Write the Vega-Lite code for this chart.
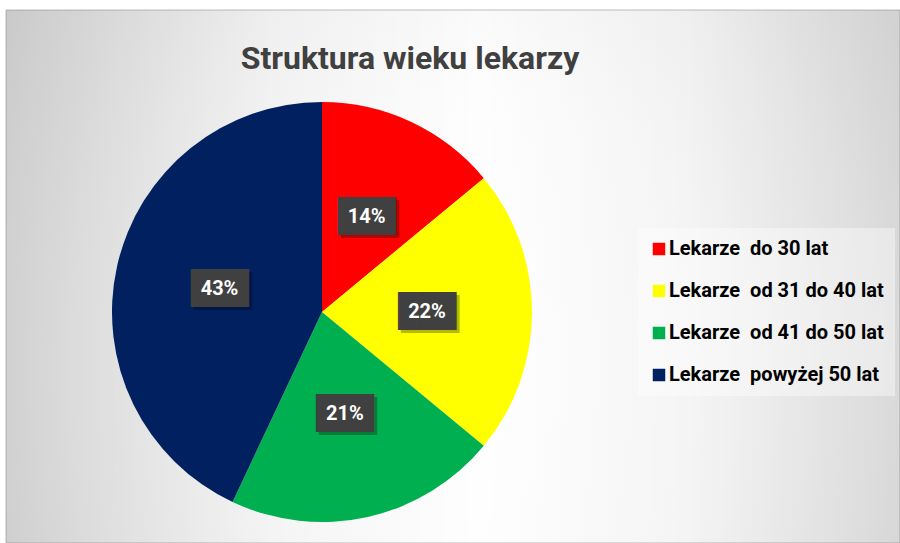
{
  "$schema": "https://vega.github.io/schema/vega-lite/v6.json",
  "width": 894,
  "height": 533,
  "autosize": {"type": "none"},
  "padding": {"left": 6, "top": 10, "right": 0, "bottom": 0},
  "background": "#ffffff",
  "config": {"view": {"stroke": null}},
  "title": {
    "text": "Struktura wieku lekarzy",
    "font": "Roboto",
    "fontSize": 32,
    "fontWeight": "bold",
    "color": "#404040",
    "anchor": "middle",
    "frame": "group",
    "offset": -66,
    "dx": -43
  },
  "data": {
    "values": [
      {"kategoria": "Lekarze\u00a0 do 30 lat", "udzial": 0.14, "kolejnosc": 1},
      {"kategoria": "Lekarze\u00a0 od 31 do 40 lat", "udzial": 0.22, "kolejnosc": 2},
      {"kategoria": "Lekarze\u00a0 od 41 do 50 lat", "udzial": 0.21, "kolejnosc": 3},
      {"kategoria": "Lekarze\u00a0 powyżej 50 lat", "udzial": 0.43, "kolejnosc": 4}
    ]
  },
  "layer": [
    {
      "data": {"values": [{"tlo": 1}]},
      "mark": {
        "type": "rect",
        "stroke": "#bdbdbd",
        "strokeWidth": 1,
        "fill": {
          "gradient": "radial",
          "x1": 0.53, "y1": 0.6, "r1": 0,
          "x2": 0.53, "y2": 0.6, "r2": 1,
          "stops": [
            {"offset": 0, "color": "#ffffff"},
            {"offset": 0.3, "color": "#fdfdfd"},
            {"offset": 0.45, "color": "#f8f8f8"},
            {"offset": 0.6, "color": "#efefef"},
            {"offset": 0.8, "color": "#e2e2e2"},
            {"offset": 1, "color": "#d0d0d0"}
          ]
        }
      },
      "encoding": {}
    },
    {
      "data": {"values": [{"tlo": 2}]},
      "mark": {
        "type": "rect",
        "fill": {
          "gradient": "linear",
          "x1": 0, "y1": 0, "x2": 1, "y2": 0,
          "stops": [
            {"offset": 0, "color": "rgba(0,0,0,0.14)"},
            {"offset": 0.3, "color": "rgba(0,0,0,0.035)"},
            {"offset": 0.53, "color": "rgba(0,0,0,0)"},
            {"offset": 0.76, "color": "rgba(0,0,0,0.035)"},
            {"offset": 1, "color": "rgba(0,0,0,0.12)"}
          ]
        }
      },
      "encoding": {}
    },
    {
      "mark": {"type": "arc", "outerRadius": 210, "x": 316, "y": 302},
      "encoding": {
        "theta": {"field": "udzial", "type": "quantitative", "stack": true},
        "order": {"field": "kolejnosc", "type": "quantitative"},
        "color": {
          "field": "kategoria",
          "type": "nominal",
          "sort": null,
          "scale": {
            "domain": ["Lekarze\u00a0 do 30 lat", "Lekarze\u00a0 od 31 do 40 lat", "Lekarze\u00a0 od 41 do 50 lat", "Lekarze\u00a0 powyżej 50 lat"],
            "range": ["#ff0000", "#ffff00", "#00b050", "#002060"]
          },
          "legend": {
            "orient": "none",
            "legendX": 632,
            "legendY": 218,
            "title": null,
            "fillColor": "rgba(255,255,255,0.4)",
            "padding": 11,
            "symbolType": "square",
            "symbolSize": 156,
            "symbolStrokeWidth": 0,
            "labelFont": "Roboto",
            "labelFontSize": 20,
            "labelFontWeight": "bold",
            "labelColor": "#000000",
            "labelOffset": 0,
            "rowPadding": 22,
            "labelLimit": 400
          }
        }
      }
    },
    {
      "mark": {"type": "text", "radius": 105, "x": 316, "y": 302, "font": "DejaVu Sans Mono", "fontSize": 32, "fill": "#000000", "opacity": 0.28, "dx": 3, "dy": 3, "baseline": "middle", "align": "center"},
      "encoding": {
        "theta": {"field": "udzial", "type": "quantitative", "stack": true},
        "order": {"field": "kolejnosc", "type": "quantitative"},
        "detail": {"field": "kategoria", "type": "nominal"},
        "text": {"value": "███"}
      }
    },
    {
      "mark": {"type": "text", "radius": 105, "x": 316, "y": 302, "font": "DejaVu Sans Mono", "fontSize": 32, "fill": "#404040", "baseline": "middle", "align": "center"},
      "encoding": {
        "theta": {"field": "udzial", "type": "quantitative", "stack": true},
        "order": {"field": "kolejnosc", "type": "quantitative"},
        "detail": {"field": "kategoria", "type": "nominal"},
        "text": {"value": "███"}
      }
    },
    {
      "mark": {"type": "text", "radius": 105, "x": 316, "y": 302, "font": "Roboto", "fontSize": 20, "fontWeight": "bold", "fill": "#ffffff", "baseline": "middle", "align": "center"},
      "encoding": {
        "theta": {"field": "udzial", "type": "quantitative", "stack": true},
        "order": {"field": "kolejnosc", "type": "quantitative"},
        "detail": {"field": "kategoria", "type": "nominal"},
        "text": {"field": "udzial", "type": "quantitative", "format": ".0%"}
      }
    }
  ]
}
